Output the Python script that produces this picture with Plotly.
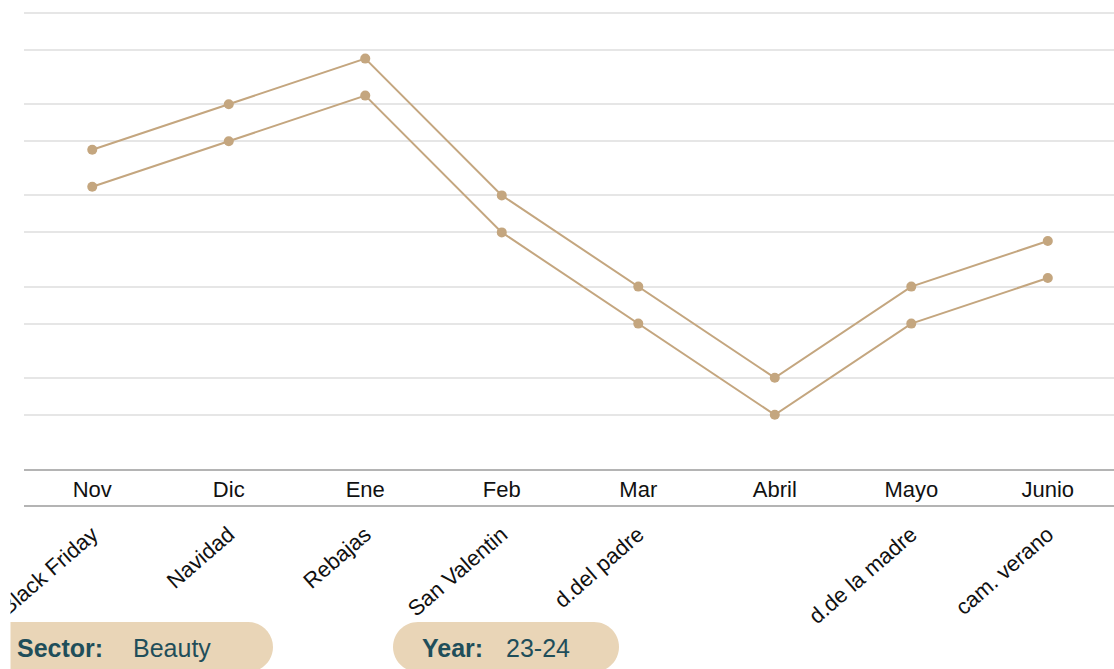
import plotly.graph_objects as go

# ---- data ----
months = ["Nov", "Dic", "Ene", "Feb", "Mar", "Abril", "Mayo", "Junio"]
events = ["Black Friday", "Navidad", "Rebajas", "San Valentin", "d.del padre", "", "d.de la madre", "cam. verano"]
series_upper = [3.5, 4, 4.5, 3, 2, 1, 2, 2.5]
series_lower = [3.5, 4, 4.5, 3, 2, 1, 2, 2.5]
sector_label, sector_value = "Sector:", "Beauty"
year_label, year_value = "Year:", "23-24"

# ---- layout constants (pixels) ----
W, H = 1114, 669
X_LEFT = 24
Y1_BOTTOM = 469
Y2_BOTTOM = 506
UNIT = 91.2
TAN = "#c4a67f"
GRID = "#e6e6e6"
AXLINE = "#b4b4b4"
PILL = "#e9d5b7"
TEAL = "#1f4e5a"
FONT = "Liberation Sans, Arial, sans-serif"


def px(x):
    return x / W


def py(y):
    return 1 - y / H


fig = go.Figure()
fig.add_trace(go.Scatter(x=months, y=series_upper, mode="lines+markers",
                         line=dict(color=TAN, width=2), marker=dict(size=10, color=TAN),
                         xaxis="x", yaxis="y", hoverinfo="skip"))
fig.add_trace(go.Scatter(x=months, y=series_lower, mode="lines+markers",
                         line=dict(color=TAN, width=2), marker=dict(size=10, color=TAN),
                         xaxis="x2", yaxis="y2", hoverinfo="skip"))

yspan = Y1_BOTTOM / UNIT
r0 = (Y2_BOTTOM - Y1_BOTTOM) / UNIT
xrange = [-0.5, 7.485]

fig.update_layout(
    template="none",
    width=W, height=H,
    margin=dict(l=0, r=0, t=0, b=0),
    paper_bgcolor="white", plot_bgcolor="rgba(0,0,0,0)",
    showlegend=False,
    font=dict(family=FONT, color="#111111"),
    xaxis=dict(domain=[px(X_LEFT), 1], range=xrange, type="category", categoryarray=months,
               categoryorder="array", anchor="y", showgrid=False, zeroline=False,
               showline=True, linecolor=AXLINE, linewidth=2, ticks="",
               tickfont=dict(size=22, color="#111111", family=FONT), automargin=False),
    yaxis=dict(domain=[py(Y1_BOTTOM), 1], range=[0, yspan], tick0=0, dtick=1,
               showgrid=True, gridcolor=GRID, gridwidth=2, zeroline=False,
               showline=False, showticklabels=False, ticks="", automargin=False),
    xaxis2=dict(overlaying="x", anchor="free", position=py(Y2_BOTTOM), range=xrange,
                type="category", categoryarray=months, categoryorder="array",
                tickmode="array", tickvals=months, ticktext=events, tickangle=-41,
                ticklabelstandoff=6,
                showgrid=False, zeroline=False, showline=True, linecolor=AXLINE, linewidth=2,
                ticks="", tickfont=dict(size=22, color="#111111", family=FONT), automargin=False),
    yaxis2=dict(overlaying="y", anchor="free", position=0, range=[r0, r0 + yspan], tick0=0, dtick=1,
                showgrid=True, gridcolor=GRID, gridwidth=2, zeroline=False,
                showline=False, showticklabels=False, ticks="", automargin=False),
)


def pill_path(x0, x1, y0, y1):
    r = (y1 - y0) / 2
    k = 0.5523 * r
    pts = [
        ("M", [(x0 + r, y0)]),
        ("L", [(x1 - r, y0)]),
        ("C", [(x1 - r + k, y0), (x1, y0 + r - k), (x1, y0 + r)]),
        ("C", [(x1, y0 + r + k), (x1 - r + k, y1), (x1 - r, y1)]),
        ("L", [(x0 + r, y1)]),
        ("C", [(x0 + r - k, y1), (x0, y0 + r + k), (x0, y0 + r)]),
        ("C", [(x0, y0 + r - k), (x0 + r - k, y0), (x0 + r, y0)]),
    ]
    s = ""
    for cmd, ps in pts:
        s += cmd + " " + " ".join(f"{px(a):.5f},{py(b):.5f}" for a, b in ps) + " "
    return s + "Z"


shapes = [
    dict(type="path", path=pill_path(-30, 273, 622, 672), xref="paper", yref="paper",
         fillcolor=PILL, line=dict(width=0), layer="below"),
    dict(type="path", path=pill_path(393, 619, 622, 672), xref="paper", yref="paper",
         fillcolor=PILL, line=dict(width=0), layer="below"),
    dict(type="rect", x0=px(-5), x1=px(10.5), y0=py(680), y1=py(510), xref="paper", yref="paper",
         fillcolor="white", line=dict(width=0), layer="above"),
]
fig.update_layout(shapes=shapes)

ann_font = dict(family=FONT, size=25, color=TEAL)
ann = [
    dict(text="<b>" + sector_label + "</b>", x=px(15), y=py(648), xanchor="left", yanchor="middle"),
    dict(text=sector_value, x=px(131), y=py(648), xanchor="left", yanchor="middle"),
    dict(text="<b>" + year_label + "</b>", x=px(420), y=py(648), xanchor="left", yanchor="middle"),
    dict(text=year_value, x=px(504), y=py(648), xanchor="left", yanchor="middle"),
]
for a in ann:
    a.update(xref="paper", yref="paper", showarrow=False, font=ann_font)
fig.update_layout(annotations=ann)

fig.write_html("out.html")
